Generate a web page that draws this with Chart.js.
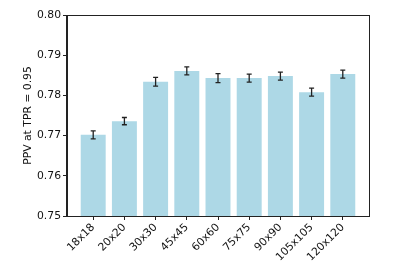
<!DOCTYPE html>
<html>
<head>
<meta charset="utf-8">
<script src="https://cdn.jsdelivr.net/npm/chart.js@4"></script>
<style>
  html, body { margin: 0; padding: 0; background: #fff; }
  #wrap { width: 415px; height: 269px; }
</style>
</head>
<body>
<div id="wrap"><canvas id="chart" width="415" height="269"></canvas></div>
<script>
const categories = ['18x18', '20x20', '30x30', '45x45', '60x60', '75x75', '90x90', '105x105', '120x120'];
const ppvValues = [0.7702, 0.7736, 0.7834, 0.7861, 0.7843, 0.7843, 0.7848, 0.7808, 0.7853];
const ppvErrors = [0.0010, 0.0009, 0.0011, 0.0010, 0.0011, 0.0010, 0.0010, 0.0010, 0.0010];
const yTicks = [0.75, 0.76, 0.77, 0.78, 0.79, 0.80];

const FONT = { family: 'DejaVu Sans', size: 10.8 };
const INK = '#222';

// error bars drawn through the scales
const errorBars = {
    id: 'errorBars',
    afterDatasetsDraw(chart) {
        const { ctx, scales: { x, y } } = chart;
        ctx.save();
        ctx.strokeStyle = INK;
        ctx.lineWidth = 1.3;
        ppvValues.forEach((v, i) => {
            const px = x.getPixelForValue(i);
            const top = y.getPixelForValue(v + ppvErrors[i]);
            const bot = y.getPixelForValue(v - ppvErrors[i]);
            ctx.beginPath();
            ctx.moveTo(px, top); ctx.lineTo(px, bot);
            ctx.moveTo(px - 2.5, top); ctx.lineTo(px + 2.5, top);
            ctx.moveTo(px - 2.5, bot); ctx.lineTo(px + 2.5, bot);
            ctx.stroke();
        });
        ctx.restore();
    }
};

// full box around the plot like matplotlib spines
const frame = {
    id: 'frame',
    afterDraw(chart) {
        const a = chart.chartArea;
        const ctx = chart.ctx;
        ctx.save();
        ctx.strokeStyle = INK;
        ctx.lineWidth = 1;
        ctx.strokeRect(Math.round(a.left) - 0.5, Math.round(a.top) + 0.5,
            Math.round(a.right - a.left) + 1, Math.round(a.bottom - a.top));
        ctx.restore();
    }
};

new Chart(document.getElementById('chart').getContext('2d'), {
    type: 'bar',
    data: {
        datasets: [{
            data: ppvValues.map((v, i) => ({ x: i, y: v })),
            backgroundColor: '#add8e6',
            borderWidth: 0,
            barPercentage: 0.8,
            categoryPercentage: 1.0
        }]
    },
    options: {
        responsive: false,
        animation: false,
        layout: { padding: { top: 15, right: 46, left: 0, bottom: 0 } },
        plugins: { legend: { display: false }, tooltip: { enabled: false } },
        scales: {
            x: {
                type: 'linear',
                offset: false,
                min: -0.84,
                max: categories.length - 1 + 0.84,
                afterBuildTicks: axis => { axis.ticks = categories.map((c, i) => ({ value: i })); },
                afterFit: axis => { axis.height = 53; },
                grid: { offset: false, drawOnChartArea: false, drawTicks: true, tickLength: 4, color: INK },
                border: { color: INK },
                ticks: {
                    autoSkip: false,
                    minRotation: 45,
                    maxRotation: 45,
                    padding: 1,
                    color: '#111',
                    font: FONT,
                    callback: v => categories[v]
                }
            },
            y: {
                min: 0.75,
                max: 0.80,
                afterBuildTicks: axis => { axis.ticks = yTicks.map(v => ({ value: v })); },
                afterFit: axis => { axis.width = 67; },
                grid: { drawOnChartArea: false, drawTicks: true, tickLength: 4, color: INK },
                border: { color: INK },
                ticks: {
                    padding: 2,
                    color: '#111',
                    font: FONT,
                    callback: v => v.toFixed(2)
                },
                title: {
                    display: true,
                    text: 'PPV at TPR = 0.95',
                    color: '#111',
                    font: FONT,
                    padding: { top: 22, bottom: 0 }
                }
            }
        }
    },
    plugins: [errorBars, frame]
});
</script>
</body>
</html>
